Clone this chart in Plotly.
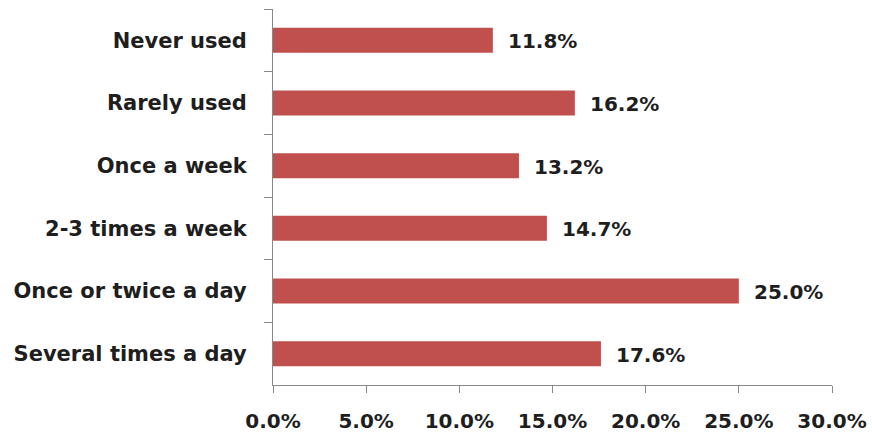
import plotly.graph_objects as go

# Survey responses: frequency of use
categories = ["Never used", "Rarely used", "Once a week", "2-3 times a week",
              "Once or twice a day", "Several times a day"]
shares = [11.8, 16.2, 13.2, 14.7, 25.0, 17.6]
x_ticks = [0, 5, 10, 15, 20, 25, 30]
x_tick_labels = ["0.0%", "5.0%", "10.0%", "15.0%", "20.0%", "25.0%", "30.0%"]

BAR_COLOR = "#C0504D"
AXIS_COLOR = "#888888"
TEXT_COLOR = "#1e1e1e"
FONT = "DejaVu Sans"
LABEL_SIZE = 21
NUMBER_SIZE = 20

fig = go.Figure(
    go.Bar(
        x=shares,
        y=categories,
        orientation="h",
        width=0.4,
        marker=dict(color=BAR_COLOR, line=dict(width=0)),
        hoverinfo="skip",
    )
)

# value labels to the right of each bar
for cat, val in zip(categories, shares):
    fig.add_annotation(
        x=val, y=cat, text=f"{val:.1f}%", showarrow=False,
        xanchor="left", yanchor="middle", xshift=13, yshift=-1,
        font=dict(family=FONT, size=NUMBER_SIZE, color=TEXT_COLOR, weight="bold"),
    )

fig.update_xaxes(
    range=[0, 30],
    tickvals=x_ticks,
    ticktext=x_tick_labels,
    showgrid=False,
    zeroline=False,
    showline=True,
    linecolor=AXIS_COLOR,
    linewidth=1,
    ticks="outside",
    ticklen=7,
    tickcolor=AXIS_COLOR,
    ticklabelstandoff=11,
    automargin=False,
    tickfont=dict(family=FONT, size=NUMBER_SIZE, color=TEXT_COLOR, weight="bold"),
)
fig.update_yaxes(
    categoryorder="array",
    categoryarray=categories,
    autorange="reversed",
    showgrid=False,
    zeroline=False,
    showline=True,
    linecolor=AXIS_COLOR,
    linewidth=1,
    ticks="outside",
    tickson="boundaries",
    ticklen=8,
    tickcolor=AXIS_COLOR,
    ticklabelstandoff=21,
    automargin=False,
    tickfont=dict(family=FONT, size=LABEL_SIZE, color=TEXT_COLOR, weight="bold"),
)

fig.update_layout(
    width=872,
    height=434,
    margin=dict(l=273, r=40, t=9, b=49),
    plot_bgcolor="white",
    paper_bgcolor="white",
    showlegend=False,
    bargap=0.6,
)

fig.write_html("out.html")
